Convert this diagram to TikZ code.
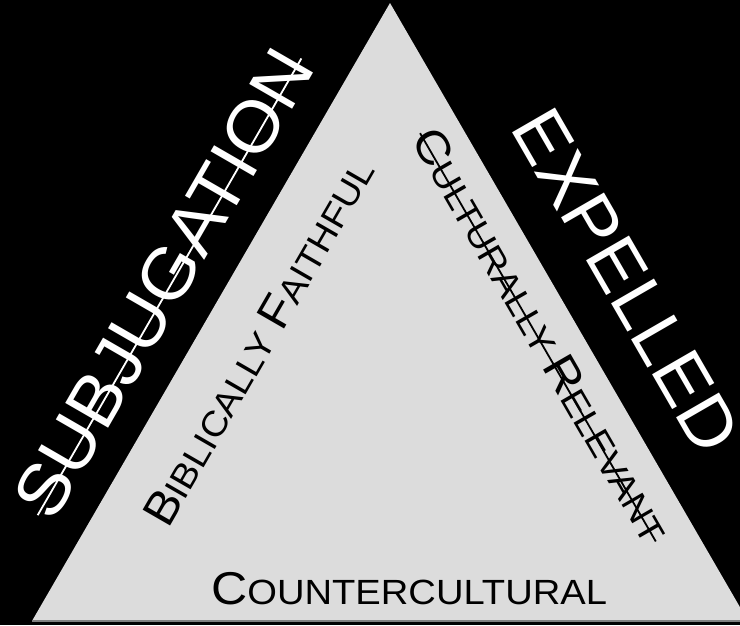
\documentclass[tikz,border=0pt]{standalone}
\usepackage{fontspec}
\usepackage{graphicx}
\setmainfont{Liberation Sans}
\usetikzlibrary{calc}

\definecolor{trigray}{RGB}{220,220,220}
\newcommand{\scword}[2]{{\fontsize{46}{50}\selectfont #1}{\fontsize{35}{40}\selectfont #2}}

\begin{document}
\begin{tikzpicture}[
  x=1pt, y=-1pt,
  inner sep=0pt,
  bigword/.style={text=white, font=\fontsize{72}{80}\selectfont, anchor=base west},
  sclabel/.style={text=black, anchor=base west},
  strike/.style={line width=1.8pt}
]
\useasboundingbox (0,0) rectangle (740,625);
\clip (0,0) rectangle (740,625);
\fill[black] (0,0) rectangle (740,625);

% the triangle
\coordinate (apex) at (390,3);
\coordinate (bl) at (32,621);
\coordinate (br) at (748,621);
\fill[trigray] (apex) -- (bl) -- (br) -- cycle;
\draw[gray, line width=1.2pt] (bl) -- (br);

% outer words
\node[bigword, rotate=60] (subj) at (53,524) {\scalebox{1.04}[1]{SUBJUGATION}};
\node[bigword, rotate=-60] (expl) at (509,127) {\scalebox{1.03}[1]{EXPELLED}};

% inner words
\node[sclabel, rotate=60] (bibl) at (168,530) {\scalebox{1.08}[1]{\scword{B}{IBLICALLY }\scword{F}{AITHFUL}}};
\node[sclabel, rotate=-60] (cult) at (410,139) {\scalebox{1.095}[1]{\scword{C}{ULTURALLY }\scword{R}{ELEVANT}}};
\node[sclabel] (coun) at (211,604) {\scalebox{1.09}[1]{\scword{C}{OUNTERCULTURAL}}};

% crossed out
\draw[white, strike] ($(subj.base west)!0.35!(subj.north west)$) -- ($(subj.base east)!0.35!(subj.north east)$);
\draw[black, strike] ($(cult.base west)!0.36!(cult.north west)$) -- ($(cult.base east)!0.36!(cult.north east)$);
\end{tikzpicture}
\end{document}
